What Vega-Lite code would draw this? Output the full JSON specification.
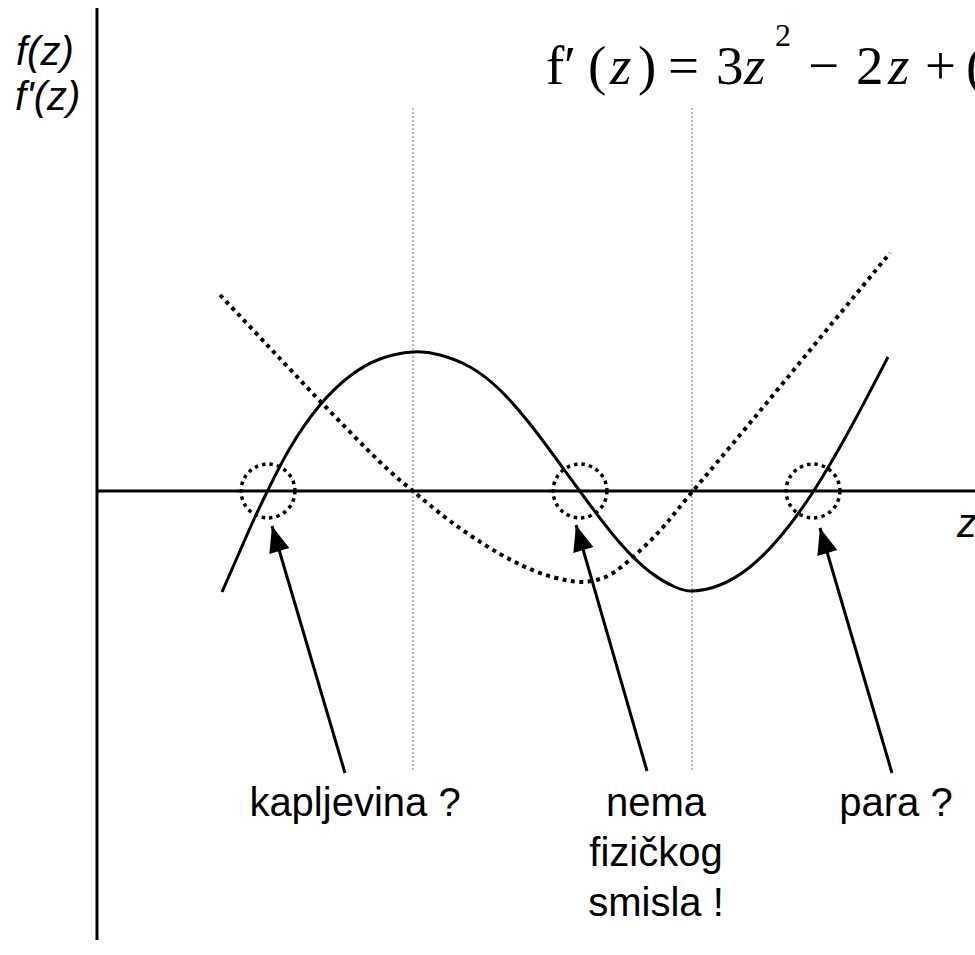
{
  "$schema": "https://vega.github.io/schema/vega-lite/v6.json",
  "width": 975,
  "height": 955,
  "autosize": {"type": "none"},
  "padding": 0,
  "background": "white",
  "config": {"view": {"stroke": null}},
  "datasets": {
    "guides": [
      {"z": 316, "f": 383, "z2": 316, "f2": -281},
      {"z": 595, "f": 383, "z2": 595, "f2": -281}
    ],
    "axes": [
      {"z": 0, "f": 483, "z2": 0, "f2": -449},
      {"z": 0, "f": 0, "z2": 878, "f2": 0}
    ],
    "fz": [
      {"z": 125, "f": -101}, {"z": 153, "f": -37}, {"z": 171, "f": 1}, {"z": 193, "f": 43},
      {"z": 223, "f": 86}, {"z": 253, "f": 115}, {"z": 283, "f": 132}, {"z": 316, "f": 139},
      {"z": 343, "f": 136}, {"z": 373, "f": 124}, {"z": 403, "f": 101}, {"z": 433, "f": 67},
      {"z": 463, "f": 27}, {"z": 493, "f": -14}, {"z": 523, "f": -52}, {"z": 553, "f": -81},
      {"z": 578, "f": -96}, {"z": 596, "f": -100}, {"z": 623, "f": -94}, {"z": 653, "f": -76},
      {"z": 683, "f": -46}, {"z": 716, "f": -1}, {"z": 753, "f": 62}, {"z": 791, "f": 134}
    ],
    "dfz": [
      {"z": 123, "f": 196}, {"z": 173, "f": 143}, {"z": 223, "f": 90}, {"z": 283, "f": 29},
      {"z": 316, "f": 0}, {"z": 353, "f": -30}, {"z": 403, "f": -63}, {"z": 443, "f": -82},
      {"z": 468, "f": -89}, {"z": 486, "f": -91}, {"z": 503, "f": -88}, {"z": 523, "f": -77},
      {"z": 553, "f": -50}, {"z": 573, "f": -28}, {"z": 596, "f": 0}, {"z": 653, "f": 68},
      {"z": 723, "f": 153}, {"z": 793, "f": 238}
    ],
    "roots": [
      {"z": 171, "f": 0}, {"z": 483, "f": 0}, {"z": 716, "f": 0}
    ],
    "arrows": [
      {"z": 175, "f": -35, "z2": 248, "f2": -282},
      {"z": 479, "f": -34, "z2": 550, "f2": -280},
      {"z": 723, "f": -37, "z2": 795, "f2": -282}
    ],
    "labels": [
      {"z": 258, "f": -325, "t": "kapljevina ?"},
      {"z": 559, "f": -325, "t": "nema"},
      {"z": 559, "f": -375, "t": "fizičkog"},
      {"z": 559, "f": -425, "t": "smisla !"},
      {"z": 799, "f": -325, "t": "para ?"}
    ],
    "axislabels": [
      {"z": -81, "f": 426, "t": "f(z)"},
      {"z": -82, "f": 381, "t": "f'(z)"},
      {"z": 860, "f": -46, "t": "z"}
    ],
    "formula": [
      {"z": 449, "f": 407, "t": "f"},
      {"z": 467, "f": 407, "t": "′"},
      {"z": 491, "f": 407, "t": "("},
      {"z": 541, "f": 407, "t": ")"},
      {"z": 571, "f": 407, "t": "="},
      {"z": 619, "f": 407, "t": "3"},
      {"z": 711, "f": 407, "t": "−"},
      {"z": 759, "f": 407, "t": "2"},
      {"z": 828, "f": 407, "t": "+"},
      {"z": 869, "f": 407, "t": "("}
    ],
    "formulaz": [
      {"z": 513, "f": 407, "t": "z"},
      {"z": 647, "f": 407, "t": "z"},
      {"z": 791, "f": 407, "t": "z"}
    ],
    "formulasup": [
      {"z": 678, "f": 445, "t": "2"}
    ]
  },
  "encoding": {
    "x": {"field": "z", "type": "quantitative", "scale": {"domain": [-97, 878], "nice": false, "zero": false}, "axis": null},
    "y": {"field": "f", "type": "quantitative", "scale": {"domain": [-464, 491], "nice": false, "zero": false}, "axis": null}
  },
  "layer": [
    {
      "data": {"name": "guides"},
      "mark": {"type": "rule", "stroke": "#777777", "strokeWidth": 1, "strokeDash": [2, 2]},
      "encoding": {"x2": {"field": "z2"}, "y2": {"field": "f2"}}
    },
    {
      "data": {"name": "axes"},
      "mark": {"type": "rule", "stroke": "black", "strokeWidth": 3},
      "encoding": {"x2": {"field": "z2"}, "y2": {"field": "f2"}}
    },
    {
      "data": {"name": "dfz"},
      "mark": {"type": "line", "interpolate": "natural", "stroke": "black", "strokeWidth": 4, "strokeDash": [4, 4.5], "strokeCap": "butt"},
      "encoding": {}
    },
    {
      "data": {"name": "fz"},
      "mark": {"type": "line", "interpolate": "natural", "stroke": "black", "strokeWidth": 3},
      "encoding": {}
    },
    {
      "data": {"name": "roots"},
      "mark": {"type": "point", "shape": "circle", "size": 2900, "filled": false, "stroke": "black", "strokeWidth": 3.5, "strokeDash": [3.5, 4], "opacity": 1},
      "encoding": {}
    },
    {
      "data": {"name": "arrows"},
      "mark": {"type": "rule", "stroke": "black", "strokeWidth": 3},
      "encoding": {"x2": {"field": "z2"}, "y2": {"field": "f2"}}
    },
    {
      "data": {"name": "arrows"},
      "mark": {"type": "point", "shape": "M0,0L-0.8,2L0.8,2Z", "size": 676, "angle": 343.6, "filled": true, "fill": "black", "strokeWidth": 0, "opacity": 1},
      "encoding": {}
    },
    {
      "data": {"name": "labels"},
      "mark": {"type": "text", "font": "Liberation Sans", "fontSize": 40, "align": "center", "baseline": "alphabetic", "fill": "black"},
      "encoding": {"text": {"field": "t"}}
    },
    {
      "data": {"name": "axislabels"},
      "mark": {"type": "text", "font": "Liberation Sans", "fontSize": 40, "fontStyle": "italic", "align": "left", "baseline": "alphabetic", "fill": "black"},
      "encoding": {"text": {"field": "t"}}
    },
    {
      "data": {"name": "formula"},
      "mark": {"type": "text", "font": "Liberation Serif", "fontSize": 55, "align": "left", "baseline": "alphabetic", "fill": "black"},
      "encoding": {"text": {"field": "t"}}
    },
    {
      "data": {"name": "formulaz"},
      "mark": {"type": "text", "font": "Liberation Serif", "fontSize": 55, "fontStyle": "italic", "align": "left", "baseline": "alphabetic", "fill": "black"},
      "encoding": {"text": {"field": "t"}}
    },
    {
      "data": {"name": "formulasup"},
      "mark": {"type": "text", "font": "Liberation Serif", "fontSize": 32, "align": "left", "baseline": "alphabetic", "fill": "black"},
      "encoding": {"text": {"field": "t"}}
    }
  ]
}
